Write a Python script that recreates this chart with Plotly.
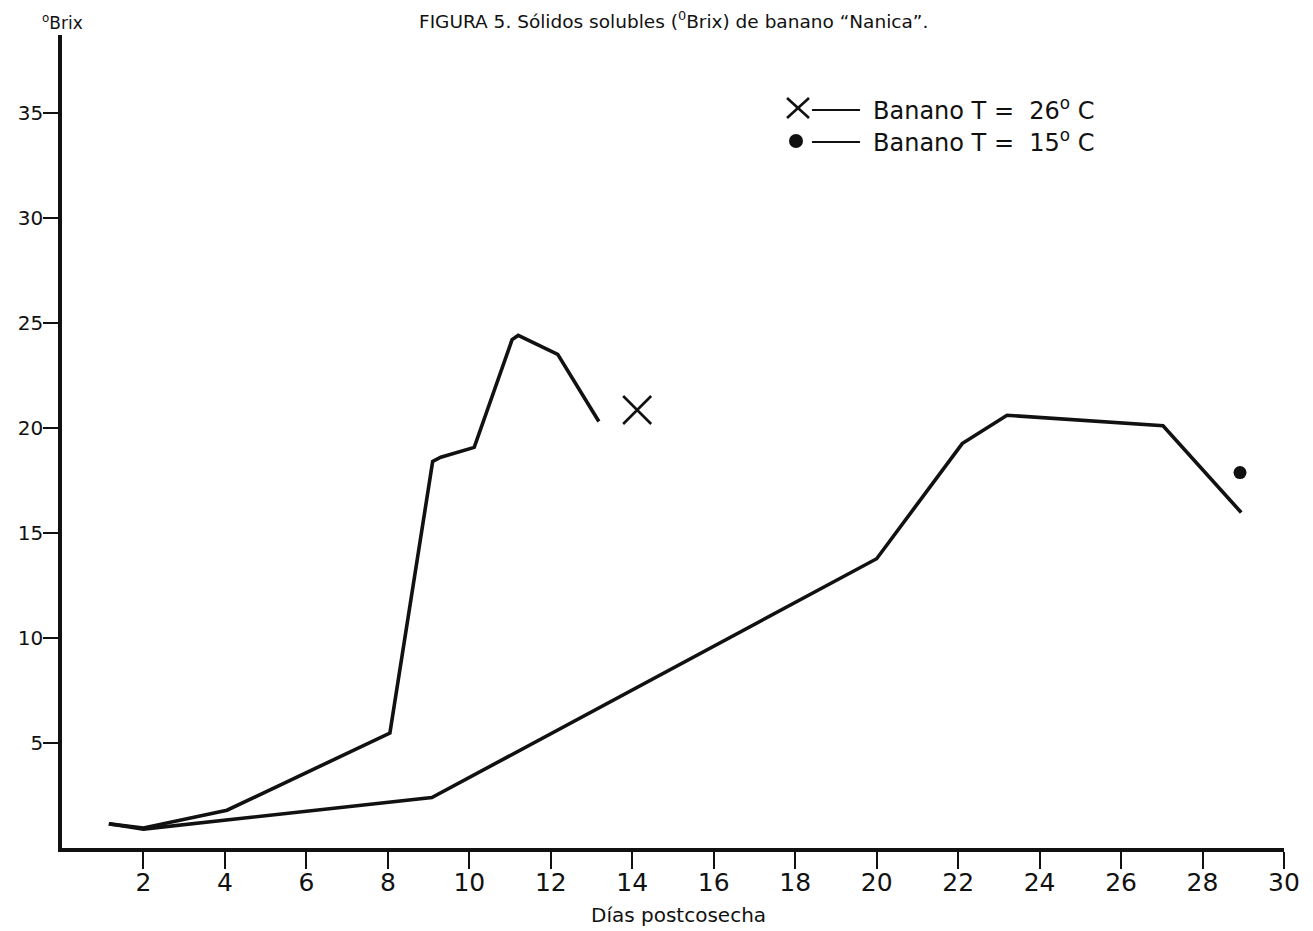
import plotly.graph_objects as go

# Data
x_26 = [1.15, 2.0, 4.05, 8.05, 9.1, 9.3, 10.12, 11.05, 11.2, 12.17, 13.18]
y_26 = [1.15, 0.95, 1.8, 5.47, 18.4, 18.6, 19.07, 24.2, 24.4, 23.5, 20.3]
x_15 = [1.15, 2.0, 9.08, 20.0, 22.1, 23.2, 27.03, 28.95]
y_15 = [1.15, 0.9, 2.4, 13.77, 19.25, 20.6, 20.1, 15.97]
mark_26_x = [14.12]
mark_26_y = [20.85]
mark_15_x = [28.92]
mark_15_y = [17.87]

x_ticks = list(range(2, 31, 2))
y_ticks = [5, 10, 15, 20, 25, 30, 35]

title_text = "FIGURA 5. Sólidos solubles (<sup>0</sup>Brix) de banano \u201cNanica\u201d."
legend_26 = "Banano T =  26<sup>o</sup> C"
legend_15 = "Banano T =  15<sup>o</sup> C"

# page has an 8px body margin; compensate so the plot sits where the reference has it
OFF = 8
W, H = 1313 - OFF, 931 - OFF
L, R, T, B = 62 - OFF, 29, 35 - OFF, 83
PW = W - L - R
PH = H - T - B
X0, Y0 = 62, 848  # page pixel of the origin


def px(x):
    return (x - X0) / PW


def py(y):
    return (Y0 - y) / PH


FONT = "DejaVu Sans, Verdana, sans-serif"
INK = "#111111"

fig = go.Figure()
fig.add_trace(go.Scatter(x=x_26, y=y_26, mode="lines",
                         line=dict(color=INK, width=3.6), showlegend=False))
fig.add_trace(go.Scatter(x=x_15, y=y_15, mode="lines",
                         line=dict(color=INK, width=3.6), showlegend=False))
fig.add_trace(go.Scatter(x=mark_26_x, y=mark_26_y, mode="markers",
                         marker=dict(symbol="x-thin", size=28, color=INK,
                                     line=dict(color=INK, width=2.6)),
                         showlegend=False))
fig.add_trace(go.Scatter(x=mark_15_x, y=mark_15_y, mode="markers",
                         marker=dict(symbol="circle", size=13, color=INK),
                         showlegend=False))

shapes = []
# legend line segments
for yy in (110, 142):
    shapes.append(dict(type="line", xref="paper", yref="paper",
                       x0=px(812), x1=px(860), y0=py(yy), y1=py(yy),
                       line=dict(color=INK, width=2.2)))
# legend X glyph
shapes.append(dict(type="line", xref="paper", yref="paper",
                   x0=px(787), x1=px(809), y0=py(98), y1=py(118),
                   line=dict(color=INK, width=2.6)))
shapes.append(dict(type="line", xref="paper", yref="paper",
                   x0=px(787), x1=px(809), y0=py(118), y1=py(98),
                   line=dict(color=INK, width=2.6)))
# legend dot
shapes.append(dict(type="circle", xref="paper", yref="paper",
                   x0=px(789), x1=px(803), y0=py(148), y1=py(134),
                   fillcolor=INK, line=dict(color=INK, width=0)))

annotations = [
    dict(text=legend_26, xref="paper", yref="paper", x=px(871), y=py(109),
         xanchor="left", yanchor="middle", showarrow=False,
         font=dict(family=FONT, size=24, color=INK)),
    dict(text=legend_15, xref="paper", yref="paper", x=px(871), y=py(141),
         xanchor="left", yanchor="middle", showarrow=False,
         font=dict(family=FONT, size=24, color=INK)),
    dict(text="<sup>o</sup>Brix", xref="paper", yref="paper", x=px(40), y=py(22),
         xanchor="left", yanchor="middle", showarrow=False,
         font=dict(family=FONT, size=17, color=INK)),
    dict(text="Días postcosecha", xref="paper", yref="paper", x=px(678), y=py(915),
         xanchor="center", yanchor="middle", showarrow=False,
         font=dict(family=FONT, size=20, color=INK)),
    dict(text=title_text, xref="paper", yref="paper", x=px(673), y=py(20),
         xanchor="center", yanchor="middle", showarrow=False,
         font=dict(family=FONT, size=18.5, color=INK)),
]

fig.update_layout(
    width=W, height=H,
    margin=dict(l=L, r=R, t=T, b=B, pad=0, autoexpand=False),
    paper_bgcolor="white", plot_bgcolor="white",
    shapes=shapes, annotations=annotations,
    showlegend=False,
)
fig.update_xaxes(range=[0, 30], tickvals=x_ticks, ticktext=[str(v) for v in x_ticks],
                 showline=True, linecolor=INK, linewidth=3.5,
                 ticks="outside", ticklen=17, tickwidth=2.2, tickcolor=INK,
                 ticklabelstandoff=-8,
                 showgrid=False, zeroline=False, automargin=False,
                 tickfont=dict(family=FONT, size=25, color=INK))
fig.update_yaxes(range=[0, 38.7], tickvals=y_ticks, ticktext=[str(v) for v in y_ticks],
                 showline=True, linecolor=INK, linewidth=3.5,
                 ticks="outside", ticklen=15, tickwidth=2.2, tickcolor=INK,
                 ticklabelstandoff=-4,
                 showgrid=False, zeroline=False, automargin=False,
                 tickfont=dict(family=FONT, size=20, color=INK))

fig.write_html("out.html")
